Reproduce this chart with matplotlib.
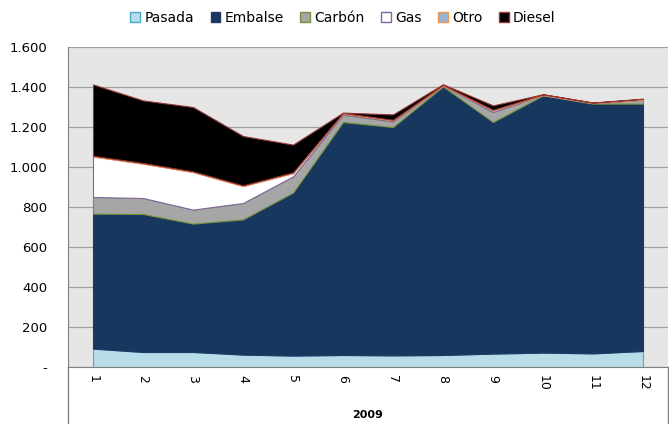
import matplotlib
matplotlib.use("Agg")
import matplotlib.pyplot as plt
from matplotlib.patches import Patch
from matplotlib.lines import Line2D

plt.rcParams["font.family"] = ["Liberation Sans Narrow", "DejaVu Sans"]

months = [1, 2, 3, 4, 5, 6, 7, 8, 9, 10, 11, 12]
year_label = "2009"

pasada = [92, 75, 75, 62, 57, 60, 58, 60, 67, 72, 68, 80]
embalse = [675, 690, 642, 676, 815, 1165, 1142, 1343, 1158, 1286, 1249, 1237]
carbon = [83, 80, 70, 82, 81, 37, 28, 4, 50, 2, 3, 20]
gas = [203, 172, 188, 85, 17, 5, 5, 0, 8, 0, 0, 0]
otro = [3, 3, 3, 3, 3, 3, 3, 3, 3, 3, 2, 3]
diesel = [357, 313, 322, 247, 139, 2, 27, 4, 22, 1, 0, 2]

names = ["Pasada", "Embalse", "Carbón", "Gas", "Otro", "Diesel"]
fills = ["#B7DDE8", "#17375E", "#A6A6A6", "#FFFFFF", "#95B3D7", "#000000"]
edges = ["#4BACC6", "#1F3864", "#77933C", "#8064A2", "#F79646", "#953735"]

fig = plt.figure(figsize=(6.69, 4.24), dpi=100)
ax = fig.add_axes([68 / 669, 1 - 367 / 424, 600 / 669, 320 / 424])
ax.set_facecolor("#E6E6E6")

polys = ax.stackplot(months, pasada, embalse, carbon, gas, otro, diesel,
                     colors=fills, zorder=2)
for p, ec in zip(polys, edges):
    p.set_edgecolor(ec)
    p.set_linewidth(0.8)

ax.set_xlim(0.5, 12.5)
ax.set_ylim(0, 1600)
ax.set_yticks(range(0, 1601, 200))
ax.set_yticklabels(["-"] + [f"{v:,}".replace(",", ".") for v in range(200, 1601, 200)],
                   fontsize=9.5)
ax.yaxis.grid(True, color="#A0A0A0", linewidth=0.9, zorder=1)
ax.set_axisbelow(True)
ax.tick_params(axis="y", length=0, pad=15)

ax.set_xticks(months)
ax.set_xticklabels([str(m) for m in months], rotation=270, fontsize=9,
                   va="top", ha="center")
ax.tick_params(axis="x", length=0, pad=6)

for s in ["top", "right"]:
    ax.spines[s].set_visible(False)
ax.spines["left"].set_color("#808080")
ax.spines["bottom"].set_color("#808080")

# category box under the plot
fig.add_artist(Line2D([68 / 669, 68 / 669], [0, 1 - 367 / 424],
                      transform=fig.transFigure, color="#808080", lw=1))
fig.add_artist(Line2D([668 / 669, 668 / 669], [0, 1 - 367 / 424],
                      transform=fig.transFigure, color="#808080", lw=1))
fig.text(368 / 669, 1 - 415 / 424, year_label, ha="center", va="center",
         fontsize=8, fontweight="bold")

handles = [Patch(facecolor=f, edgecolor=e, linewidth=1) for f, e in zip(fills, edges)]
fig.legend(handles, names, loc="center", bbox_to_anchor=(343 / 669, 1 - 18 / 424),
           ncol=6, frameon=False, fontsize=10, handlelength=0.7, handleheight=0.7,
           handletextpad=0.3, columnspacing=1.2)

fig.savefig("out.png", dpi=100)
plt.close(fig)
